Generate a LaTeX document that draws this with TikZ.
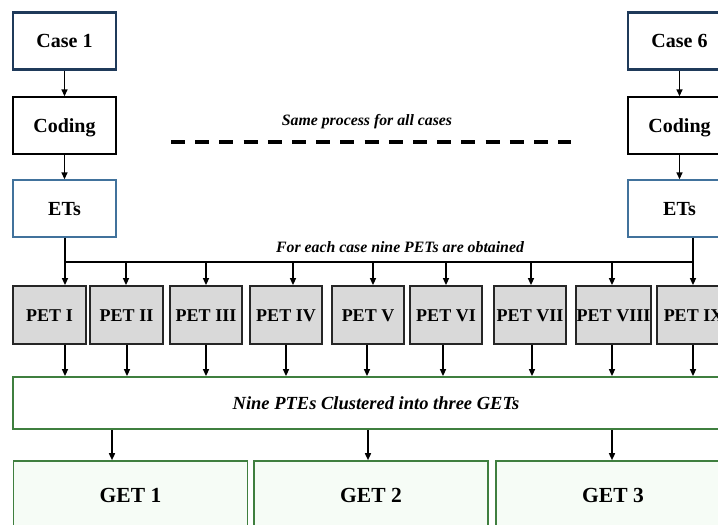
\documentclass[tikz,border=0pt]{standalone}
\usepackage{fontspec}
\setmainfont{Liberation Serif}
\usetikzlibrary{arrows.meta,calc}
\definecolor{navy}{HTML}{1F3A5A}
\definecolor{steel}{HTML}{41729C}
\definecolor{grn}{HTML}{3F7F3F}
\definecolor{petfill}{HTML}{D9D9D9}
\definecolor{getfill}{HTML}{F6FCF6}
\begin{document}
\begin{tikzpicture}[x=1pt,y=-1pt,
 box/.style={draw, minimum width=103pt, minimum height=57pt, inner sep=0pt,
   font=\fontsize{20}{24}\selectfont\bfseries, text height=13.4pt, text depth=0pt},
 casebox/.style={box, draw=navy, line width=2.2pt},
 codebox/.style={box, draw=black, line width=1.4pt},
 etbox/.style={box, draw=steel, line width=1.4pt},
 petbox/.style={draw=black!85, fill=petfill, line width=1.8pt, minimum height=58pt, inner sep=0pt,
   font=\fontsize{18}{22}\selectfont\bfseries, text height=12.2pt, text depth=0pt},
 bigbox/.style={draw=grn, line width=1.8pt, minimum height=52pt, minimum width=726pt, inner sep=0pt,
   font=\fontsize{18.5}{22}\selectfont\bfseries\itshape, text height=12.4pt, text depth=0pt},
 getbox/.style={draw=grn, fill=getfill, line width=1.6pt, minimum width=234pt, minimum height=68pt, inner sep=0pt,
   font=\fontsize{21.5}{25}\selectfont\bfseries, text height=14.5pt, text depth=0pt},
 note/.style={inner sep=0pt, font=\fontsize{15.8}{18}\selectfont\bfseries\itshape, text height=10.7pt, text depth=0pt},
 arr/.style={-{Triangle[length=7pt,width=6pt]}, line width=1.5pt},
 ln/.style={line width=1.5pt}
]
\useasboundingbox (0,0) rectangle (718,525);
\clip (0,0) rectangle (718,525);

% left column
\node[casebox] (case1) at (64.5,41) {Case 1};
\node[codebox] (code1) at (64.5,125.5) {Coding};
\node[etbox] (ets1) at (64.5,208.5) {ETs};
% right column
\node[casebox] (case6) at (679.5,41) {Case 6};
\node[codebox] (code6) at (679.5,125.5) {Coding};
\node[etbox] (ets6) at (679.5,208.5) {ETs};

\draw[arr] (case1) -- (code1);
\draw[arr] (code1) -- (ets1);
\draw[arr] (case6) -- (code6);
\draw[arr] (code6) -- (ets6);

% dashed separator
\node[note] (same) at (367,120) {Same process for all cases};
\coordinate (dl) at (171,142);
\coordinate (dr) at (571,142);
\draw[line width=3.6pt, dash pattern=on 14pt off 10.2pt] (dl) -- (dr);

% PET boxes
\node[petbox, minimum width=73pt] (pet1) at (49.5,315) {PET I};
\node[petbox, minimum width=73pt] (pet2) at (126.5,315) {PET II};
\node[petbox, minimum width=72pt] (pet3) at (206,315) {PET III};
\node[petbox, minimum width=72pt] (pet4) at (286,315) {PET IV};
\node[petbox, minimum width=72pt] (pet5) at (368,315) {PET V};
\node[petbox, minimum width=72pt] (pet6) at (446,315) {PET VI};
\node[petbox, minimum width=72pt] (pet7) at (530,315) {PET VII};
\node[petbox, minimum width=75pt] (pet8) at (613.5,315) {PET VIII};
\node[petbox, minimum width=73pt] (pet9) at (693.5,315) {PET IX};

% bus
\node[note] (each) at (400,247) {For each case nine PETs are obtained};
\foreach \i/\x in {1/65,2/126,3/206,4/293,5/373,6/446,7/531,8/612,9/693}
  \coordinate (p\i) at (\x,262);
\draw[ln] (ets1.south -| p1) -- (p1) -- (p9);
\draw[ln] (ets6.south -| p9) -- (p9);
\foreach \i in {1,...,9}
  \draw[arr] (p\i) -- (p\i |- pet\i.north);

% big box
\node[bigbox] (big) at (376,403) {Nine PTEs Clustered into three GETs};
\foreach \i/\x in {1/65,2/127,3/206,4/286,5/367,6/443,7/532,8/612,9/693}
  \coordinate (q\i) at (\x,344);
\foreach \i in {1,...,9}
  \draw[arr] (pet\i.south -| q\i) -- (big.north -| q\i);

% GET boxes
\node[getbox] (get1) at (130.5,495) {GET 1};
\node[getbox] (get2) at (371,495) {GET 2};
\node[getbox] (get3) at (613,495) {GET 3};
\coordinate (g1) at (112,429);
\coordinate (g2) at (368,429);
\coordinate (g3) at (612,429);
\foreach \i in {1,2,3}
  \draw[arr] (big.south -| g\i) -- (get\i.north -| g\i);
\end{tikzpicture}
\end{document}
